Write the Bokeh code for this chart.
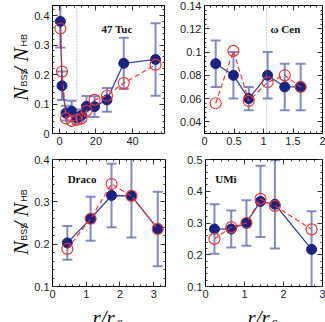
import numpy as np
from bokeh.plotting import figure
from bokeh.models import (Range1d, SingleIntervalTicker, LinearAxis, CustomJSTickFormatter,
                          Label, Span, ColumnDataSource)
from bokeh.core.properties import value
from bokeh.layouts import column, row
from bokeh.embed import file_html
from bokeh.resources import INLINE

# ---------------- data ----------------
tuc_r = [0.5, 1.4, 3.6, 6.7, 9.5, 12.0, 14.8, 19.2, 26.0, 35.2, 52.6]
tuc_blue = [0.380, 0.162, 0.069, 0.076, 0.053, 0.061, 0.092, 0.091, 0.114, 0.238, 0.251]
tuc_err = [0.088, 0.048, 0.025, 0.035, 0.020, 0.020, 0.035, 0.035, 0.040, 0.087, 0.123]
tuc_red = [0.356, 0.210, 0.051, 0.043, 0.046, 0.051, 0.077, 0.114, 0.128, 0.171, 0.233]

ome_r = [0.19, 0.49, 0.75, 1.07, 1.36, 1.63]
ome_blue = [0.090, 0.080, 0.060, 0.080, 0.070, 0.070]
ome_err = [0.020, 0.020, 0.010, 0.020, 0.020, 0.020]
ome_red = [0.056, 0.101, 0.058, 0.074, 0.080, 0.070]

dra_r = [0.44, 1.13, 1.75, 2.34, 3.12]
dra_blue = [0.203, 0.260, 0.315, 0.314, 0.236]
dra_err = [0.040, 0.052, 0.075, 0.098, 0.088]
dra_red = [0.189, 0.260, 0.342, 0.314, 0.236]

umi_r = [0.23, 0.66, 1.05, 1.41, 1.78, 2.72]
umi_blue = [0.281, 0.281, 0.300, 0.368, 0.359, 0.217]
umi_err = [0.078, 0.058, 0.072, 0.112, 0.139, 0.120]
umi_red = [0.250, 0.287, 0.300, 0.376, 0.354, 0.280]

BLUE_ERR = "#7076b8"
BLUE_LINE = "#3a439c"
BLUE_MARK = "#1b2380"
RED = "#e5393a"
TICK_FONT = "Liberation Sans"
TXT = "#111111"

FMT = "return String(parseFloat(tick.toFixed(6)));"
EMPTY = "return '';"


def make_panel(w, h, borders, xr, yr, xint, yint, r, blue, err, red, name, name_xy, vline=None):
    bl, br, bt, bb = borders
    p = figure(width=w, height=h, output_backend="svg", toolbar_location=None,
               x_range=Range1d(*xr), y_range=Range1d(*yr),
               min_border_left=bl, min_border_right=br, min_border_top=bt, min_border_bottom=bb,
               x_axis_type=None, y_axis_type=None)
    p.background_fill_color = "white"
    p.border_fill_color = "white"
    p.outline_line_color = "black"
    p.outline_line_width = 1
    p.grid.visible = False
    xt = SingleIntervalTicker(interval=xint, num_minor_ticks=5)
    yt = SingleIntervalTicker(interval=yint, num_minor_ticks=5)
    for place in ("below", "above", "left", "right"):
        mirrored = place in ("above", "right")
        ax = LinearAxis(ticker=xt if place in ("below", "above") else yt,
                        formatter=CustomJSTickFormatter(code=EMPTY if mirrored else FMT))
        ax.major_tick_in = 5
        ax.major_tick_out = 0
        ax.minor_tick_in = 2
        ax.minor_tick_out = 0
        ax.axis_line_color = "black"
        ax.major_tick_line_color = "#333333"
        ax.minor_tick_line_color = "#333333"
        ax.major_label_text_font = TICK_FONT
        ax.major_label_text_font_size = "11px"
        ax.major_label_text_color = "#222222"
        ax.major_label_standoff = 0 if mirrored else 3
        p.add_layout(ax, place)

    if vline is not None:
        p.add_layout(Span(location=vline, dimension="height", line_color="#9a9a9a",
                          line_dash="1 2", line_width=1))

    src = ColumnDataSource(dict(r=r, blue=blue, red=red,
                                lo=[b - e for b, e in zip(blue, err)],
                                hi=[b + e for b, e in zip(blue, err)]))
    p.segment(x0="r", y0="lo", x1="r", y1="hi", source=src, line_color=BLUE_ERR,
              line_width=2, line_alpha=0.85)
    p.scatter(x="r", y="lo", source=src, marker="dash", size=10, line_color=BLUE_ERR,
              line_width=2, line_alpha=0.85)
    p.scatter(x="r", y="hi", source=src, marker="dash", size=10, line_color=BLUE_ERR,
              line_width=2, line_alpha=0.85)
    p.line(x="r", y="blue", source=src, line_color=BLUE_LINE, line_width=1.3)
    p.scatter(x="r", y="blue", source=src, size=10, fill_color=BLUE_MARK, line_color=BLUE_MARK)
    p.line(x="r", y="red", source=src, line_color=RED, line_width=1.2, line_dash="5 3")
    p.scatter(x="r", y="red", source=src, size=11, fill_color=None, line_color=RED,
              line_width=1.2)

    p.add_layout(Label(x=name_xy[0], y=name_xy[1], text=name, text_font="Liberation Serif",
                       text_font_style="bold", text_font_size="11px", text_color=TXT,
                       text_baseline="middle"))
    return p


def label_fig(w, h):
    f = figure(width=w, height=h, output_backend="svg", toolbar_location=None,
               x_range=Range1d(0, w), y_range=Range1d(0, h),
               min_border=0, x_axis_type=None, y_axis_type=None)
    f.outline_line_color = None
    f.grid.visible = False
    f.background_fill_color = "white"
    f.border_fill_color = "white"
    return f


STYLE = {
    "serif": dict(text_font=value("Liberation Serif"), text_font_style="italic",
                  text_font_size="21px"),
    "c": dict(text_font=value("Liberation Serif"), text_font_style="italic",
              text_font_size="13px"),
    "sub": dict(text_font=value("Liberation Sans"), text_font_size="9px"),
}


def texts(f, xs, ys, txts, kind, angle=0.0):
    f.text(x=xs, y=ys, text=txts, angle=angle, text_color=TXT, text_align="left",
           text_baseline="alphabetic", **STYLE[kind])


def ylabel_fig(h, yc_top):
    f = label_fig(30, h)
    # big italic pieces then subscripts, bottom-up along a vertical line
    texts(f, [20, 20, 20], [h - (yc_top + 37), h - (yc_top + 4), h - (yc_top - 9)],
          ["N", "/", "N"], "serif", np.pi / 2)
    texts(f, [23, 23], [h - (yc_top + 20), h - (yc_top - 27)], ["BSS", "HB"], "sub", np.pi / 2)
    return f


p1 = make_panel(140, 150, (22, 6, 5, 17), (-3.8, 57.5), (0, 0.434), 20, 0.1,
                tuc_r, tuc_blue, tuc_err, tuc_red, "47 Tuc", (23, 0.355), vline=9.5)
p2 = make_panel(155, 150, (34, 3, 5, 17), (0, 2), (0.03, 0.14), 0.5, 0.02,
                ome_r, ome_blue, ome_err, ome_red, "ω Cen", (1.12, 0.12), vline=1.05)
p3 = make_panel(140, 153, (22, 5, 9, 17), (0, 3.35), (0.1, 0.4), 1, 0.1,
                dra_r, dra_blue, dra_err, dra_red, "Draco", (0.45, 0.355))
p4 = make_panel(155, 153, (35, 3, 9, 17), (0, 3), (0.1, 0.5), 1, 0.1,
                umi_r, umi_blue, umi_err, umi_red, "UMi", (0.25, 0.44))

y1 = ylabel_fig(150, 75)
y3 = ylabel_fig(153, 78)

xl = label_fig(325, 19)
texts(xl, [92, 247], [5, 5], ["r/r", "r/r"], "serif")
texts(xl, [116, 271], [1, 1], ["c", "c"], "c")

layout = column(row(y1, p1, p2), row(y3, p3, p4), xl)
open("out.html", "w").write(file_html(layout, INLINE))
